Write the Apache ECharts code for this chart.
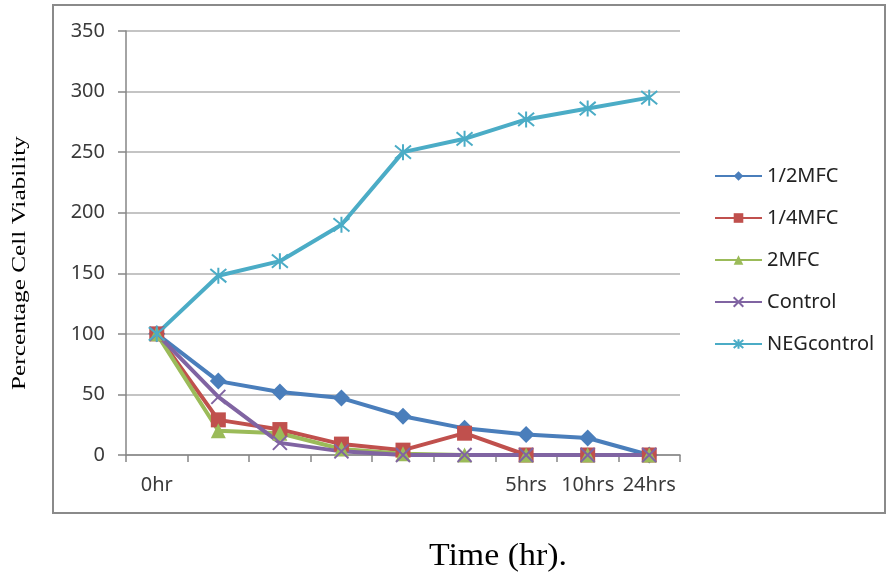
<!DOCTYPE html>
<html>
<head>
<meta charset="utf-8">
<title>Percentage Cell Viability</title>
<script src="https://cdn.jsdelivr.net/npm/echarts@6/dist/echarts.min.js"></script>
<style>
  html, body { margin: 0; padding: 0; background: #fff; }
  #chart { width: 888px; height: 575px; }
</style>
</head>
<body>
<div id="chart"></div>
<script>
// Sampling points along the time axis; only some of them carry a printed label.
const timeCategories = ['0hr', 't1', 't2', 't3', 't4', 't5', '5hrs', '10hrs', '24hrs'];
const tickLabels = ['0hr', '', '', '', '', '', '5hrs', '10hrs', '24hrs'];

// Percentage cell viability per treatment.
const halfMFC    = [100, 61, 52, 47, 32, 22, 17, 14, 0];
const quarterMFC = [100, 29, 21, 9, 4, 18, 0, 0, 0];
const twoMFC     = [100, 20, 18, 5, 1, 0, 0, 0, 0];
const control    = [100, 48, 10, 3, 0, 0, 0, 0, 0];
const negControl = [100, 148, 160, 190, 250, 261, 277, 286, 295];

const yTicks = { min: 0, max: 350, step: 50 };

const SYMBOL_X = 'path://M0,0L10,10M10,0L0,10';
const SYMBOL_STAR = 'path://M0,0L10,10M10,0L0,10M5,-1L5,11';

const uiFont = '"Noto Sans", sans-serif';

function lineSeries(name, data, color, symbol, size, stroked) {
  return {
    name: name,
    type: 'line',
    data: data,
    symbol: symbol,
    symbolSize: size,
    showAllSymbol: true,
    lineStyle: { color: color, width: 4 },
    itemStyle: stroked
      ? { color: color, borderColor: color, borderWidth: 2 }
      : { color: color, borderWidth: 0 },
    emphasis: { disabled: true }
  };
}

const chart = echarts.init(document.getElementById('chart'));

chart.setOption({
  animation: false,
  backgroundColor: '#ffffff',
  grid: { left: 126, right: 208, top: 31, bottom: 120, containLabel: false },
  xAxis: {
    type: 'category',
    data: timeCategories,
    boundaryGap: true,
    axisLine: { show: true, lineStyle: { color: '#868686', width: 1.5 } },
    axisTick: { show: true, length: 7, lineStyle: { color: '#868686', width: 1.5 } },
    axisLabel: {
      interval: 0,
      margin: 20,
      color: '#3a3a3a',
      fontSize: 20,
      fontFamily: uiFont,
      formatter: function (value, index) { return tickLabels[index]; }
    },
    splitLine: { show: false }
  },
  yAxis: {
    type: 'value',
    min: yTicks.min,
    max: yTicks.max,
    interval: yTicks.step,
    axisLine: { show: true, lineStyle: { color: '#868686', width: 1.5 } },
    axisTick: { show: true, length: 8, lineStyle: { color: '#868686', width: 1.5 } },
    axisLabel: {
      margin: 21,
      color: '#3a3a3a',
      fontSize: 20,
      fontFamily: uiFont
    },
    splitLine: { show: true, lineStyle: { color: '#b0b0b0', width: 1.5 } }
  },
  legend: {
    orient: 'vertical',
    left: 709,
    top: 161,
    itemWidth: 47,
    itemHeight: 12,
    itemGap: 22,
    textStyle: { color: '#222222', fontSize: 20, fontFamily: uiFont },
    data: ['1/2MFC', '1/4MFC', '2MFC', 'Control', 'NEGcontrol']
  },
  graphic: [
    {
      type: 'rect',
      shape: { x: 53, y: 5, width: 832, height: 508 },
      style: { fill: 'none', stroke: '#8a8a8a', lineWidth: 2 },
      silent: true
    },
    {
      type: 'text',
      x: 20,
      y: 263,
      rotation: Math.PI / 2,
      scaleX: 1.33,
      style: {
        text: 'Percentage Cell Viability',
        font: '19px "Liberation Serif", serif',
        fill: '#000000',
        align: 'center',
        verticalAlign: 'middle'
      },
      silent: true
    },
    {
      type: 'text',
      x: 498,
      y: 557,
      scaleX: 1.06,
      style: {
        text: 'Time (hr).',
        font: '32px "Liberation Serif", serif',
        fill: '#000000',
        align: 'center',
        verticalAlign: 'middle'
      },
      silent: true
    }
  ],
  series: [
    lineSeries('1/2MFC', halfMFC, '#4a7ebb', 'diamond', 17, false),
    lineSeries('1/4MFC', quarterMFC, '#c0504d', 'rect', 15, false),
    lineSeries('2MFC', twoMFC, '#9bbb59', 'triangle', 15, false),
    lineSeries('Control', control, '#8064a2', SYMBOL_X, 14, true),
    lineSeries('NEGcontrol', negControl, '#4bacc6', SYMBOL_STAR, 16, true)
  ]
});
</script>
</body>
</html>
